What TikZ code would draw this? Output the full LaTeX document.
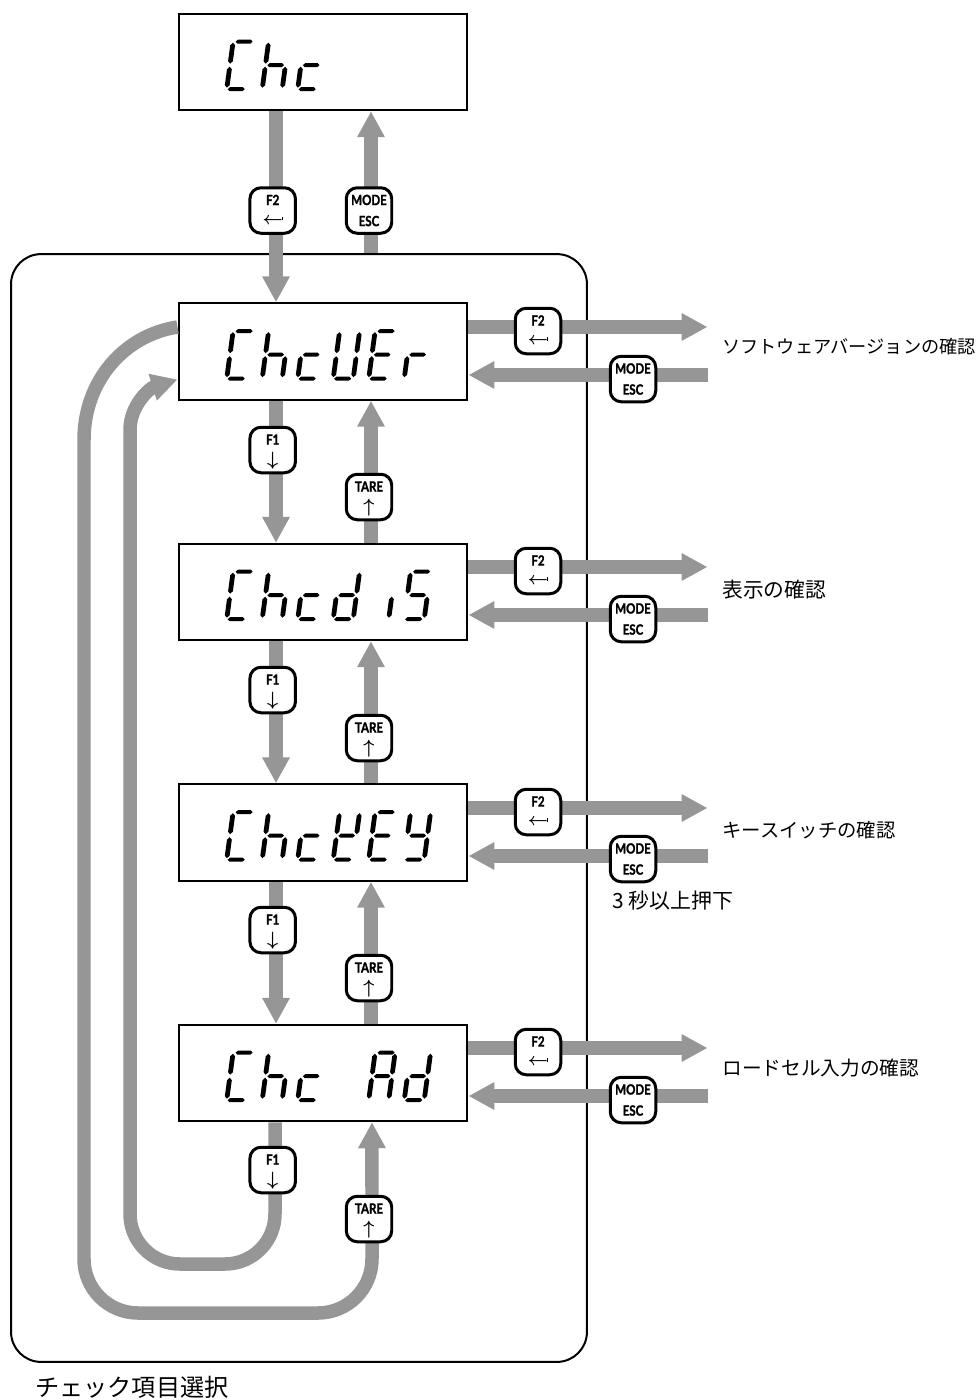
\documentclass[tikz,border=0pt]{standalone}
\usepackage{fontspec}
\usepackage{xcolor}
\usepackage{tikz}
\usetikzlibrary{arrows.meta, positioning, calc}
\newfontfamily\jpfont{Noto Sans CJK JP}
\newfontfamily\keyfont[FakeStretch=0.82, BoldFeatures={FakeBold=1.5}]{Lato}
\definecolor{flow-gray}{HTML}{969696}

% Key legends
\newcommand{\keydown}{\raisebox{0pt}[0pt][0pt]{\fontsize{11pt}{11pt}\selectfont\boldmath$\downarrow$}}
\newcommand{\keyup}{\raisebox{0pt}[0pt][0pt]{\fontsize{11pt}{11pt}\selectfont\boldmath$\uparrow$}}
\newcommand{\keyenter}{\raisebox{1pt}[0pt][0pt]{\fontsize{10pt}{10pt}\selectfont\boldmath$\leftarrow$\kern-0.6pt\rule[2.3pt]{0.7pt}{2.2pt}}}

% 7-segment readout: segments a-g of one digit, in px above the baseline
\def\seghoriz#1#2#3{\fill (#1,#3) -- (#1+2,#3+2) -- (#2-2,#3+2) -- (#2,#3) -- (#2-2,#3-2) -- (#1+2,#3-2) -- cycle;}
\def\segvert#1#2#3{\fill (#1,#2) -- (#1+2.4,#2+2.5) -- (#1+2.4,#3-2.5) -- (#1,#3) -- (#1-2.4,#3-2.5) -- (#1-2.4,#2+2.5) -- cycle;}
\def\sega{\seghoriz{2.5}{19.5}{49}}
\def\segb{\segvert{20}{27}{48}}
\def\segc{\segvert{20}{3}{24}}
\def\segd{\seghoriz{1}{18}{1.5}}
\def\sege{\segvert{0}{3}{24}}
\def\segf{\segvert{0}{27}{48}}
\def\segg{\seghoriz{2}{18.5}{25.5}}
\def\glyphC{a,d,e,f}
\def\glyphh{c,e,f,g}
\def\glyphc{d,e,g}
\def\glyphU{b,c,d,e,f}
\def\glyphE{a,d,e,f,g}
\def\glyphr{e,g}
\def\glyphd{b,c,d,e,g}
\def\glyphi{c}
\def\glyphS{a,c,d,f,g}
\def\glyphK{b,d,e,f,g}
\def\glyphY{b,c,d,f,g}
\def\glyphA{a,b,c,e,f,g}
\def\glyphn{}
\newcommand{\readout}[2]{%
  \foreach \ch [count=\i from 0] in {#2} {%
    \edef\seglist{\csname glyph\ch\endcsname}%
    \begin{scope}[shift={($(#1.center)+(-96.5+35.5*\i,28.7)$)}, x=0.02cm, y=0.02cm, xslant=0.135]
      \foreach \s in \seglist {\csname seg\s\endcsname}
    \end{scope}
  }%
}

\begin{document}
\begin{tikzpicture}[
    x=0.02cm, y=-0.02cm,
    display/.style={rectangle, draw, line width=0.04cm, minimum width=5.78cm, minimum height=1.93cm},
    frame/.style={rectangle, draw, line width=0.04cm, rounded corners=0.6cm, minimum width=11.52cm, minimum height=22.16cm},
    key/.style={rectangle, draw, fill=white, line width=0.06cm, rounded corners=0.22cm, minimum size=0.91cm, inner sep=0pt, align=center, font=\keyfont\bfseries\fontsize{8pt}{12pt}\selectfont},
    arrow/.style={-{Triangle[length=0.52cm, width=0.52cm]}, flow-gray, line width=0.27cm},
    note/.style={anchor=west, inner sep=0pt, font=\jpfont\fontsize{11pt}{13pt}\selectfont}
]
\useasboundingbox (0,0) rectangle (980,1400);

% Check items frame
\node[frame] (frame) at (299,808) {};

% Displays
\node[display] (chc) at (323,62) {};
\node[display] (chcver) at (323,351.5) {};
\node[display] (chcdis) at (323,592) {};
\node[display] (chckey) at (323,832.5) {};
\node[display] (chcad) at (323,1073) {};

\readout{chc}{C,h,c}
\readout{chcver}{C,h,c,U,E,r}
\readout{chcdis}{C,h,c,d,i,S}
\readout{chckey}{C,h,c,K,E,Y}
\readout{chcad}{C,h,c,n,A,d}

% Free ends on the right
\coordinate (verout) at (707.5,327);
\coordinate (verback) at (707.5,375);
\coordinate (disout) at (707.5,567);
\coordinate (disback) at (707.5,615);
\coordinate (keyout) at (707.5,808);
\coordinate (keyback) at (707.5,856);
\coordinate (adout) at (707.5,1048);
\coordinate (adback) at (707.5,1096);

% Vertical arrows
\draw[arrow] ([xshift=-0.94cm]chc.south) -- ([xshift=-0.94cm]chcver.north);
\draw[arrow] ([xshift=0.96cm]chc.south |- frame.north) -- ([xshift=0.96cm]chc.south);
\draw[arrow] ([xshift=-0.94cm]chcver.south) -- ([xshift=-0.94cm]chcdis.north);
\draw[arrow] ([xshift=0.96cm]chcdis.north) -- ([xshift=0.96cm]chcver.south);
\draw[arrow] ([xshift=-0.94cm]chcdis.south) -- ([xshift=-0.94cm]chckey.north);
\draw[arrow] ([xshift=0.96cm]chckey.north) -- ([xshift=0.96cm]chcdis.south);
\draw[arrow] ([xshift=-0.94cm]chckey.south) -- ([xshift=-0.94cm]chcad.north);
\draw[arrow] ([xshift=0.96cm]chcad.north) -- ([xshift=0.96cm]chckey.south);

% Arrows to the right
\draw[arrow] (chcver.east |- verout) -- (verout);
\draw[arrow] (verback) -- (verback -| chcver.east);
\draw[arrow] (chcdis.east |- disout) -- (disout);
\draw[arrow] (disback) -- (disback -| chcdis.east);
\draw[arrow] (chckey.east |- keyout) -- (keyout);
\draw[arrow] (keyback) -- (keyback -| chckey.east);
\draw[arrow] (chcad.east |- adout) -- (adout);
\draw[arrow] (adback) -- (adback -| chcad.east);

% Wrap-around loops
\draw[arrow] ([xshift=-0.96cm]chcad.south) -- (275,1214) .. controls (275,1241.6) and (252.6,1264) .. (225,1264) -- (180,1264) .. controls (152.4,1264) and (130,1241.6) .. (130,1214) -- (130,430) .. controls (130,405) and (150,388) .. ([yshift=-0.56cm]chcver.west);
\draw[arrow] ([yshift=0.49cm]chcver.west) .. controls (125,335) and (84,380) .. (84,440) -- (84,1259) .. controls (84,1288.8) and (108.2,1313) .. (138,1313) -- (318,1313) .. controls (347.8,1313) and (372,1288.8) .. (372,1259) -- ([xshift=0.98cm]chcad.south);

% Keys
\node[key] (f2top) at (272.7,210.5) {F2\\\keyenter};
\node[key] (esctop) at (369,210.5) {MODE\\ESC};

\node[key] (f1ver) at (272.7,450) {F1\\\keydown};
\node[key] (tarever) at (369,497) {TARE\\\keyup};
\node[key] (f2ver) at (538,331) {F2\\\keyenter};
\node[key] (escver) at (633,379) {MODE\\ESC};

\node[key] (f1dis) at (272.7,690) {F1\\\keydown};
\node[key] (taredis) at (369,738) {TARE\\\keyup};
\node[key] (f2dis) at (538,571) {F2\\\keyenter};
\node[key] (escdis) at (633,619) {MODE\\ESC};

\node[key] (f1key) at (272.7,930) {F1\\\keydown};
\node[key] (tarekey) at (369,978) {TARE\\\keyup};
\node[key] (f2key) at (538,812) {F2\\\keyenter};
\node[key] (esckey) at (633,859) {MODE\\ESC};

\node[key] (f1ad) at (272.7,1170) {F1\\\keydown};
\node[key] (taread) at (369,1219) {TARE\\\keyup};
\node[key] (f2ad) at (538,1052) {F2\\\keyenter};
\node[key] (escad) at (633,1100) {MODE\\ESC};

% Notes
\node[note, font=\jpfont\fontsize{10.35pt}{13pt}\selectfont] (verlabel) at (722,347) {ソフトウェアバージョンの確認};
\node[note, font=\jpfont\fontsize{11.8pt}{13pt}\selectfont] (dislabel) at (722,590) {表示の確認};
\node[note] (keylabel) at (722,830) {キースイッチの確認};
\node[note, font=\jpfont\fontsize{11.9pt}{13pt}\selectfont] (holdlabel) at (612,901) {3 秒以上押下};
\node[note, font=\jpfont\fontsize{11.2pt}{13pt}\selectfont] (adlabel) at (722,1068) {ロードセル入力の確認};
\node[note, font=\jpfont\fontsize{13.75pt}{16pt}\selectfont] (framelabel) at (35,1387) {チェック項目選択};

\end{tikzpicture}
\end{document}
